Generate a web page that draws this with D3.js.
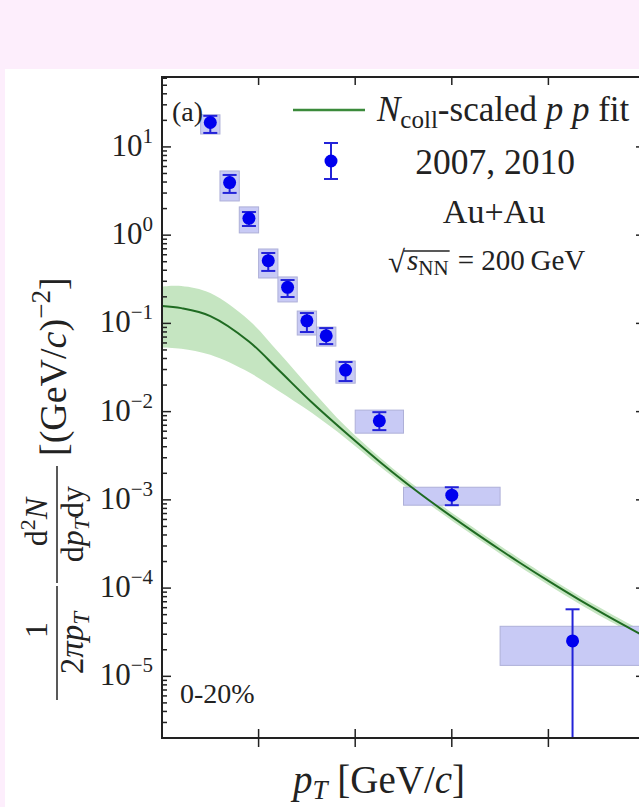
<!DOCTYPE html>
<html><head><meta charset="utf-8">
<script src="https://cdn.jsdelivr.net/npm/d3@7"></script>
<style>
html,body{margin:0;padding:0;background:#fdeefc;}
svg{display:block;}
text{font-family:"Liberation Serif","Times New Roman",serif;fill:#222;}
</style></head>
<body>
<svg id="chart" width="639" height="807"></svg>
<script>
// ---- data ----
const pT      = [0.5, 0.7, 0.9, 1.1, 1.3, 1.5, 1.7, 1.9, 2.25, 3.0, 4.25];
const yieldV  = [18.9, 3.94, 1.55, 0.514, 0.256, 0.107, 0.0724, 0.0296, 0.00787, 0.00113, 2.52e-5];
const statHi  = [22.5, 4.81, 1.83, 0.628, 0.310, 0.131, 0.0885, 0.0365, 0.00986, 0.00139, 5.75e-5];
const statLo  = [14.4, 3.01, 1.27, 0.393, 0.199, 0.0798, 0.0583, 0.0222, 0.00617, 0.00087, 1e-8];
const sysHi   = [23.1, 5.34, 2.09, 0.697, 0.336, 0.138, 0.0908, 0.0374, 0.0104, 0.00139, 3.69e-5];
const sysLo   = [14.0, 2.44, 1.06, 0.327, 0.175, 0.0738, 0.0553, 0.0210, 0.0057, 0.00087, 1.33e-5];
const binLo   = [0.4, 0.6, 0.8, 1.0, 1.2, 1.4, 1.6, 1.8, 2.0, 2.5, 3.5];
const binHi   = [0.6, 0.8, 1.0, 1.2, 1.4, 1.6, 1.8, 2.0, 2.5, 3.5, 5.0];

const fitPT   = [0, 0.2, 0.5, 0.9, 1.2, 1.55, 1.9, 2.25, 2.5, 2.85, 3.2, 3.5, 3.7, 4.0, 4.3, 4.6, 5.0];
const fitVal  = [0.1574, 0.1489, 0.1211, 0.0624, 0.0302, 0.01276, 0.00579, 0.00272, 0.001637, 0.000845, 0.000454, 0.000272, 0.000195, 0.0001205, 7.59e-5, 4.91e-5, 2.82e-5];
const fitHi   = [0.2612, 0.2649, 0.2203, 0.1084, 0.04786, 0.01762, 0.00681, 0.00305, 0.001816, 0.000938, 0.000504, 0.000302, 0.000217, 0.0001337, 8.41e-5, 5.45e-5, 3.13e-5];
const fitLo   = [0.0533, 0.0516, 0.0440, 0.0279, 0.01738, 0.00968, 0.00499, 0.00242, 0.001476, 0.000762, 0.000409, 0.000245, 0.000176, 0.0001086, 6.84e-5, 4.43e-5, 2.55e-5];

const xTicks  = [1, 2, 3, 4];
const yExps   = [1, 0, -1, -2, -3, -4, -5];

// ---- layout ----
const svg = d3.select("#chart");
const L = 162, R = 645, T = 77, B = 738;
const x = d3.scaleLinear().domain([0, 5]).range([L, R]);
const y = d3.scaleLog().domain([2e-6, 62]).range([B, T]);

// white panel
svg.append("rect").attr("x", 5).attr("y", 69).attr("width", 700).attr("height", 800).attr("fill", "#fff");

svg.append("defs").append("clipPath").attr("id", "clip")
  .append("rect").attr("x", L).attr("y", T).attr("width", R - L).attr("height", B - T);
const plot = svg.append("g").attr("clip-path", "url(#clip)");

// fit band + line
const fit = fitPT.map((p, i) => ({p, v: fitVal[i], hi: fitHi[i], lo: fitLo[i]}));
plot.append("path").datum(fit)
  .attr("d", d3.area().x(d => x(d.p)).y0(d => y(d.lo)).y1(d => y(d.hi)).curve(d3.curveCatmullRom))
  .attr("fill", "#c5e5c1");

// data
const pts = pT.map((p, i) => ({p, v: yieldV[i], sh: statHi[i], sl: statLo[i], yh: sysHi[i], yl: sysLo[i], b0: binLo[i], b1: binHi[i]}));
plot.selectAll("rect.sys").data(pts).join("rect").attr("class", "sys")
  .attr("x", d => x(d.b0)).attr("width", d => x(d.b1) - x(d.b0))
  .attr("y", d => y(d.yh)).attr("height", d => y(d.yl) - y(d.yh))
  .attr("fill", "#c8caf5").attr("stroke", "#aeb0d8").attr("stroke-width", 1);

plot.append("path").datum(fit)
  .attr("d", d3.line().x(d => x(d.p)).y(d => y(d.v)).curve(d3.curveCatmullRom))
  .attr("fill", "none").attr("stroke", "#1f6b22").attr("stroke-width", 2);

const eb = plot.selectAll("g.pt").data(pts).join("g").attr("class", "pt");
eb.append("line").attr("x1", d => x(d.p)).attr("x2", d => x(d.p))
  .attr("y1", d => y(d.sh)).attr("y2", d => y(d.sl)).attr("stroke", "#2323d8").attr("stroke-width", 2);
eb.append("line").attr("x1", d => x(d.p) - 7).attr("x2", d => x(d.p) + 7)
  .attr("y1", d => y(d.sh)).attr("y2", d => y(d.sh)).attr("stroke", "#2323d8").attr("stroke-width", 2);
eb.append("line").attr("x1", d => x(d.p) - 7).attr("x2", d => x(d.p) + 7)
  .attr("y1", d => y(d.sl)).attr("y2", d => y(d.sl)).attr("stroke", "#2323d8").attr("stroke-width", 2);
eb.append("circle").attr("cx", d => x(d.p)).attr("cy", d => y(d.v)).attr("r", 6.5).attr("fill", "#0000ee");

// frame
const frame = svg.append("g").attr("stroke", "#222").attr("stroke-width", 2).attr("fill", "none");
frame.append("rect").attr("x", L).attr("y", T).attr("width", R - L).attr("height", B - T);

// y ticks
const yt = y.ticks().filter(v => v >= 2e-6 && v <= 62);
const isMajor = v => Math.abs(Math.log10(v) - Math.round(Math.log10(v))) < 1e-6;
svg.append("g").selectAll("line").data(yt).join("line")
  .attr("x1", L).attr("x2", d => L + (isMajor(d) ? 9 : 5))
  .attr("y1", d => y(d)).attr("y2", d => y(d)).attr("stroke", "#222").attr("stroke-width", 1.5);
svg.append("g").selectAll("line").data(yt).join("line")
  .attr("x1", R).attr("x2", d => R - (isMajor(d) ? 9 : 5))
  .attr("y1", d => y(d)).attr("y2", d => y(d)).attr("stroke", "#222").attr("stroke-width", 1.5);

// x ticks
svg.append("g").selectAll("line").data(xTicks).join("line")
  .attr("x1", d => x(d)).attr("x2", d => x(d)).attr("y1", B - 9).attr("y2", B + 9)
  .attr("stroke", "#222").attr("stroke-width", 1.5);
svg.append("g").selectAll("line").data(xTicks).join("line")
  .attr("x1", d => x(d)).attr("x2", d => x(d)).attr("y1", T).attr("y2", T + 8)
  .attr("stroke", "#222").attr("stroke-width", 1.5);

// y tick labels
const yl = svg.append("g").selectAll("text").data(yExps).join("text")
  .attr("x", 153).attr("y", d => y(Math.pow(10, d)) + 9)
  .attr("text-anchor", "end").attr("font-size", 31);
yl.append("tspan").text("10");
yl.append("tspan").attr("dy", -13).attr("font-size", 21).text(d => d < 0 ? "\u2212" + (-d) : String(d));

// x axis label
const xl = svg.append("text").attr("x", 379).attr("y", 793).attr("text-anchor", "middle").attr("font-size", 39);
xl.append("tspan").attr("font-style", "italic").text("p");
xl.append("tspan").attr("font-style", "italic").attr("font-size", 27).attr("dy", 6).text("T");
xl.append("tspan").attr("dy", -6).text(" [GeV/");
xl.append("tspan").attr("font-style", "italic").text("c");
xl.append("tspan").text("]");

// y axis label (rotated)
const yg = svg.append("g").attr("transform", "rotate(-90)");
yg.append("text").attr("x", -630).attr("y", 47).attr("text-anchor", "middle").attr("font-size", 32).text("1");
yg.append("line").attr("x1", -700).attr("x2", -586).attr("y1", 57).attr("y2", 57).attr("stroke", "#222").attr("stroke-width", 1.5);
const t2 = yg.append("text").attr("x", -643).attr("y", 83).attr("text-anchor", "middle").attr("font-size", 33);
t2.append("tspan").text("2");
t2.append("tspan").attr("font-style", "italic").text("\u03C0p");
t2.append("tspan").attr("font-style", "italic").attr("font-size", 23).attr("dy", 6).text("T");
const t3 = yg.append("text").attr("x", -522).attr("y", 47).attr("text-anchor", "middle").attr("font-size", 32);
t3.append("tspan").text("d");
t3.append("tspan").attr("font-size", 22).attr("dy", -12).text("2");
t3.append("tspan").attr("dy", 12).attr("font-style", "italic").text("N");
yg.append("line").attr("x1", -583).attr("x2", -466).attr("y1", 57).attr("y2", 57).attr("stroke", "#222").attr("stroke-width", 1.5);
const t4 = yg.append("text").attr("x", -524).attr("y", 83).attr("text-anchor", "middle").attr("font-size", 32);
t4.append("tspan").text("d");
t4.append("tspan").attr("font-style", "italic").text("p");
t4.append("tspan").attr("font-style", "italic").attr("font-size", 22).attr("dy", 6).text("T");
t4.append("tspan").attr("dy", -6).text("dy");
const t5 = yg.append("text").attr("x", -456).attr("y", 66).attr("font-size", 38);
t5.append("tspan").text("[(GeV/");
t5.append("tspan").attr("font-style", "italic").text("c");
t5.append("tspan").text(")");
t5.append("tspan").attr("font-size", 27).attr("dy", -16).text("\u22122");
t5.append("tspan").attr("dy", 16).text("]");

// legend
svg.append("line").attr("x1", 293).attr("x2", 365).attr("y1", 110).attr("y2", 110)
  .attr("stroke", "#3b8a3b").attr("stroke-width", 2.5);
const lt = svg.append("text").attr("x", 377).attr("y", 121).attr("font-size", 35);
lt.append("tspan").attr("font-style", "italic").text("N");
lt.append("tspan").attr("font-size", 25).attr("dy", 7).text("coll");
lt.append("tspan").attr("dy", -7).text("-scaled ");
lt.append("tspan").attr("font-style", "italic").text("p p");
lt.append("tspan").text(" fit");

const lm = svg.append("g");
lm.append("line").attr("x1", 331).attr("x2", 331).attr("y1", 143).attr("y2", 179).attr("stroke", "#2323d8").attr("stroke-width", 2);
lm.append("line").attr("x1", 324).attr("x2", 338).attr("y1", 143).attr("y2", 143).attr("stroke", "#2323d8").attr("stroke-width", 2);
lm.append("line").attr("x1", 324).attr("x2", 338).attr("y1", 179).attr("y2", 179).attr("stroke", "#2323d8").attr("stroke-width", 2);
lm.append("circle").attr("cx", 331).attr("cy", 161).attr("r", 6.5).attr("fill", "#0000ee");

svg.append("text").attr("x", 495).attr("y", 174).attr("text-anchor", "middle").attr("font-size", 35.5).text("2007, 2010");
svg.append("text").attr("x", 494).attr("y", 223).attr("text-anchor", "middle").attr("font-size", 34).text("Au+Au");

// sqrt(s_NN) = 200 GeV
const sq = svg.append("g");
sq.append("text").attr("x", 388).attr("y", 272).attr("font-size", 31).text("\u221A");
const s1 = sq.append("text").attr("x", 407).attr("y", 270).attr("font-size", 29);
s1.append("tspan").attr("font-style", "italic").text("s");
s1.append("tspan").attr("font-size", 21).attr("dy", 5).text("NN");
const sw = s1.node().getComputedTextLength();
sq.append("line").attr("x1", 404).attr("x2", 407 + sw + 1).attr("y1", 251).attr("y2", 251).attr("stroke", "#222").attr("stroke-width", 1.3);
sq.append("text").attr("x", 407 + sw + 9).attr("y", 270).attr("font-size", 29).text("= 200\u2009GeV");

svg.append("text").attr("x", 172).attr("y", 121).attr("font-size", 28).text("(a)");
svg.append("text").attr("x", 180).attr("y", 703).attr("font-size", 28).text("0-20%");
</script>
</body></html>
